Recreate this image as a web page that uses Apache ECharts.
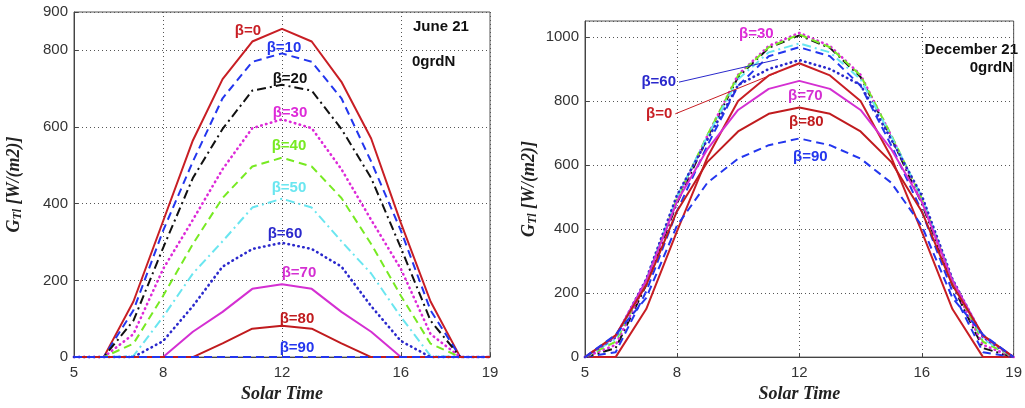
<!DOCTYPE html>
<html><head><meta charset="utf-8">
<script src="https://cdn.jsdelivr.net/npm/echarts@6/dist/echarts.min.js"></script>
<style>html,body{margin:0;padding:0;background:#fff}#c{width:1025px;height:408px}</style>
</head><body><div id="c"></div>
<script>
// ---------- data ----------
const hours = [5,6,7,8,9,10,11,12,13,14,15,16,17,18,19];
const xTicks = [5,8,12,16,19];
const betaNames = ['β=0','β=10','β=20','β=30','β=40','β=50','β=60','β=70','β=80','β=90'];

// June 21 (left panel)
const jun_b0  = [0,0,145,355,565,725,823,856,823,718,570,350,145,0,0];
const jun_b10 = [0,0,122,330,510,675,770,792,770,675,510,330,122,0,0];
const jun_b20 = [0,0,95,285,467,595,695,710,695,595,467,285,95,0,0];
const jun_b30 = [0,0,60,230,358,490,597,620,597,490,358,230,60,0,0];
const jun_b40 = [0,0,35,160,295,415,497,520,497,415,295,160,35,0,0];
const jun_b50 = [0,0,3,105,218,302,390,413,390,302,218,105,3,0,0];
const jun_b60 = [0,0,0,42,133,236,282,298,282,236,133,42,0,0,0];
const jun_b70 = [0,0,0,0,66,118,178,190,178,118,66,0,0,0,0];
const jun_b80 = [0,0,0,0,0,36,74,82,74,36,0,0,0,0,0];
const jun_b90 = [0,0,0,0,0,0,0,0,0,0,0,0,0,0,0];

// December 21 (right panel)
const dec_b0  = [0,0,150,392,625,800,880,918,880,800,625,392,150,0,0];
const dec_b10 = [0,15,205,455,662,848,940,968,940,848,662,455,205,15,0];
const dec_b20 = [0,28,225,480,686,875,966,1005,966,875,686,480,225,28,0];
const dec_b30 = [0,38,232,490,692,882,972,1013,972,882,692,490,232,38,0];
const dec_b40 = [0,48,238,495,694,880,968,1008,968,880,694,495,238,48,0];
const dec_b50 = [0,56,242,500,690,868,952,980,952,868,690,500,242,56,0];
const dec_b60 = [0,62,244,505,680,850,900,928,900,850,680,505,244,62,0];
const dec_b70 = [0,65,240,485,650,772,838,863,838,772,650,485,240,65,0];
const dec_b80 = [0,68,225,455,610,705,760,780,760,705,610,455,225,68,0];
const dec_b90 = [0,70,185,410,545,620,662,683,662,620,545,410,185,70,0];

const junSeries = [jun_b0,jun_b10,jun_b20,jun_b30,jun_b40,jun_b50,jun_b60,jun_b70,jun_b80,jun_b90];
const decSeries = [dec_b0,dec_b10,dec_b20,dec_b30,dec_b40,dec_b50,dec_b60,dec_b70,dec_b80,dec_b90];

// ---------- styles ----------
const DASH = [8,5], DASHDOT = [9,4,2,4], DOT = [0.5,4.5];
const styles = [
  {color:'#c81e24', type:'solid'},
  {color:'#2336ee', type:DASH},
  {color:'#111111', type:DASHDOT},
  {color:'#dd2ad8', type:DOT},
  {color:'#77ea22', type:DASH},
  {color:'#6ae6f0', type:DASHDOT},
  {color:'#2a28cc', type:DOT},
  {color:'#d42fd2', type:'solid'},
  {color:'#c01b1e', type:'solid'},
  {color:'#2336ee', type:DASH}
];
// label offsets (pixels) relative to the noon point of each curve
const junLabelOff = [[-34,2],[2,-6],[8,-6],[8,-7],[7,-12],[7,-11],[3,-9],[17,-11],[15,-7],[15,-9]];
const decLabelOff = {3:[-43,1], 7:[6,15], 8:[7,14], 9:[11,18]};
const decLeader = {0:{from:[7.95,760], to:[11.3,890]}, 6:{from:[8.07,859], to:[11.3,930]}};

const lblFont = {fontFamily:'Liberation Sans, Arial, sans-serif', fontWeight:'bold', fontSize:15};

function lineSeries(vals, i, gi, panel){
  const st = styles[i];
  const s = {
    type:'line', name:betaNames[i]+'_'+panel, xAxisIndex:gi, yAxisIndex:gi,
    data: hours.map((h,k)=>[h, vals[k]]),
    showSymbol:false, symbol:'none', silent:true, animation:false,
    lineStyle:{color:st.color, type:st.type, width: st.type===DOT?2.6:2, cap: st.type===DOT?'round':'butt'},
    z: 2 + i*0.01
  };
  const noon = vals[hours.indexOf(12)];
  let off = null;
  if (panel==='jun') off = junLabelOff[i];
  else if (decLabelOff[i]) off = decLabelOff[i];
  const mp = [];
  if (off) mp.push({coord:[12, noon], label:Object.assign({show:true, formatter:betaNames[i], color:st.color, offset:off, position:'inside'}, lblFont)});
  if (panel==='dec' && decLeader[i]) {
    const L = decLeader[i];
    mp.push({coord:L.from, label:Object.assign({show:true, formatter:betaNames[i], color:st.color, position:'left', distance:3}, lblFont)});
    s.markLine = {silent:true, animation:false, symbol:['none','none'],
      lineStyle:{color:st.color, width:1, type:'solid'}, label:{show:false},
      data:[[{coord:L.from},{coord:L.to}]]};
  }
  if (mp.length) s.markPoint = {symbol:'circle', symbolSize:0, silent:true, animation:false, data:mp};
  return s;
}

const series = [];
junSeries.forEach((v,i)=>series.push(lineSeries(v,i,0,'jun')));
decSeries.forEach((v,i)=>series.push(lineSeries(v,i,1,'dec')));

const tickFont = {fontFamily:'Liberation Sans, Arial, sans-serif', fontSize:15, color:'#333'};
const nameFont = {fontFamily:'Liberation Serif, Times New Roman, serif', fontWeight:'bold', fontStyle:'italic', fontSize:18, color:'#222'};
const gridLine = {show:true, lineStyle:{color:'#555', type:[1,3], width:1}};

function xAx(gi){
  return {gridIndex:gi, type:'value', min:5, max:19, name:'Solar Time', nameLocation:'middle', nameGap:26,
    nameTextStyle:nameFont,
    axisLine:{lineStyle:{color:'#444'}},
    axisTick:{show:true, inside:true, length:4, customValues:xTicks, lineStyle:{color:'#444'}},
    axisLabel:Object.assign({customValues:xTicks, margin:8, formatter:v=>String(v)}, tickFont),
    splitLine:gridLine};
}
function yAx(gi, max, gap, hideMax){
  return {gridIndex:gi, type:'value', min:0, max:max, interval:200,
    name:'{g|G}{s|Tl}{g| [W/(m2)]}', nameLocation:'middle', nameGap:gap, nameRotate:90,
    nameTextStyle:Object.assign({rich:{g:Object.assign({},nameFont), s:Object.assign({}, nameFont, {fontSize:12, padding:[8,0,0,0]})}}, nameFont),
    axisLine:{lineStyle:{color:'#444'}},
    axisTick:{show:true, inside:true, length:4, lineStyle:{color:'#444'}},
    axisLabel:Object.assign({margin:6, showMaxLabel: !hideMax, formatter:v=>String(v)}, tickFont),
    splitLine:gridLine};
}

const option = {
  animation:false,
  backgroundColor:'#fff',
  grid:[
    {left:74, top:12, width:416, height:350, show:true, borderColor:'#555', borderWidth:1},
    {left:585, top:21, width:433, height:340, show:true, borderColor:'#555', borderWidth:1}
  ],
  xAxis:[xAx(0), xAx(1)],
  yAxis:[yAx(0, 900, 50, false), yAx(1, 1050, 46, true)],
  graphic:[
    {type:'text', left:413, top:19, style:{text:'June 21', fill:'#111', font:'bold 15px "Liberation Sans", Arial, sans-serif'}},
    {type:'text', left:412, top:54, style:{text:'0grdN', fill:'#111', font:'bold 15px "Liberation Sans", Arial, sans-serif'}},
    {type:'text', right:7, top:42, style:{text:'December 21', fill:'#111', font:'bold 15px "Liberation Sans", Arial, sans-serif'}},
    {type:'text', right:12, top:60, style:{text:'0grdN', fill:'#111', font:'bold 15px "Liberation Sans", Arial, sans-serif'}}
  ],
  series:series
};
const chart = echarts.init(document.getElementById('c'), null, {renderer:'canvas'});
chart.setOption(option);
</script></body></html>
